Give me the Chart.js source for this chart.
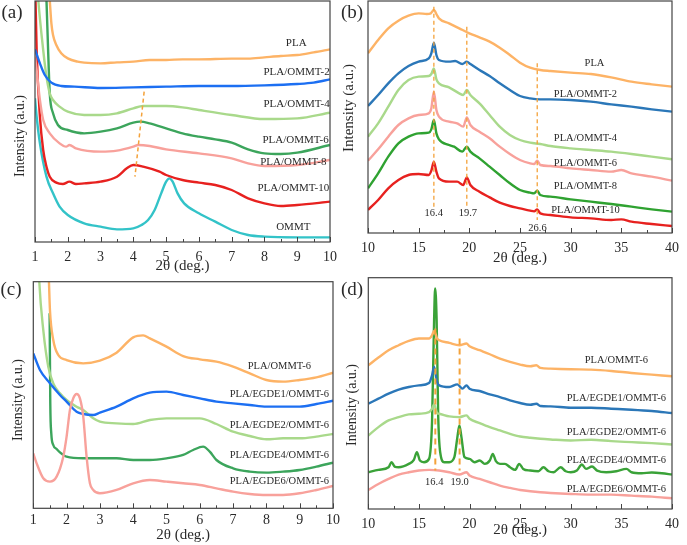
<!DOCTYPE html>
<html>
<head>
<meta charset="utf-8">
<script src="https://cdn.jsdelivr.net/npm/chart.js@4.4.1/dist/chart.umd.min.js"></script>
<style>
  body { margin: 0; background: #fff; width: 687px; height: 545px; overflow: hidden; position: relative; }
  canvas { position: absolute; }
</style>
</head>
<body>
<canvas id="chartA" width="345" height="275" style="left:0;top:0"></canvas>
<canvas id="chartB" width="347" height="275" style="left:340px;top:0"></canvas>
<canvas id="chartC" width="345" height="275" style="left:0;top:270px"></canvas>
<canvas id="chartD" width="347" height="275" style="left:340px;top:270px"></canvas>
<script>
// Intensities are in arbitrary units (0 = bottom of each panel)

// (a) PLA/OMMT, 2θ = 1-10°
const aTicks = [1, 2, 3, 4, 5, 6, 7, 8, 9, 10];
const aNames = ['PLA', 'PLA/OMMT-2', 'PLA/OMMT-4', 'PLA/OMMT-6', 'PLA/OMMT-8', 'PLA/OMMT-10', 'OMMT'];
const aPLA_x = [1.40, 1.45, 1.50, 1.55, 1.65, 1.8, 2.0, 2.3, 2.5, 3.0, 3.5, 4.0, 4.5, 5.0, 5.5, 6.0, 7.0, 7.5, 8.0, 8.5, 9.0, 9.5, 10];
const aPLA_y = [800, 726, 656, 621, 591, 566, 551, 541, 538, 536, 539, 541, 546, 546, 548, 548, 550, 550, 554, 558, 561, 569, 578];
const aO2_x = [1.0, 1.15, 1.3, 1.5, 1.8, 2.2, 3, 4, 5, 6, 7, 8, 9, 9.5, 10];
const aO2_y = [578, 536, 501, 478, 468, 466, 462, 464, 466, 468, 468, 470, 474, 478, 488];
const aO4_x = [1.05, 1.1, 1.25, 1.35, 1.45, 1.55, 1.75, 2, 2.5, 3, 3.5, 4, 4.3, 5, 5.5, 6, 7, 8, 9, 10];
const aO4_y = [800, 726, 576, 496, 446, 426, 406, 391, 381, 381, 386, 401, 408, 408, 404, 396, 381, 369, 371, 388];
const aO6_x = [1.33, 1.35, 1.40, 1.45, 1.55, 1.7, 2, 2.5, 3, 3.5, 4, 4.2, 4.5, 5, 5.5, 6, 6.5, 7, 7.5, 8, 8.5, 9, 10];
const aO6_y = [800, 726, 576, 446, 386, 351, 336, 326, 331, 341, 358, 361, 356, 341, 326, 316, 308, 298, 278, 266, 264, 268, 291];
const aO8_x = [1.0, 1.05, 1.15, 1.25, 1.45, 1.75, 1.95, 2.05, 2.25, 3, 3.5, 4, 4.15, 4.5, 5, 6, 7, 7.5, 8, 9, 10];
const aO8_y = [556, 516, 426, 366, 326, 296, 286, 291, 281, 271, 274, 286, 291, 288, 278, 266, 251, 236, 228, 231, 246];
const aO10_x = [1.0, 1.05, 1.15, 1.25, 1.35, 1.45, 1.65, 1.85, 2.05, 2.25, 2.5, 3, 3.5, 3.8, 4, 4.3, 4.8, 5, 5.5, 6, 6.5, 7, 7.5, 8, 8.5, 9, 10];
const aO10_y = [800, 576, 376, 276, 226, 196, 178, 174, 181, 174, 176, 181, 196, 221, 231, 226, 211, 201, 186, 178, 171, 156, 131, 116, 108, 111, 121];
const aOMMT_x = [1.0, 1.05, 1.15, 1.35, 1.55, 1.75, 2, 2.5, 3, 3.5, 4, 4.25, 4.45, 4.65, 4.85, 5.0, 5.1, 5.2, 5.35, 5.55, 6, 6.5, 7, 7.5, 8, 9, 10];
const aOMMT_y = [431, 376, 296, 196, 146, 106, 81, 56, 46, 38, 41, 51, 66, 96, 146, 181, 191, 181, 146, 116, 86, 61, 36, 21, 16, 14, 14];
const aShift_x = [4.33, 4.05];
const aShift_y = [451, 196];

// (b) PLA/OMMT, 2θ = 10-40°
const bTicks = [10, 15, 20, 25, 30, 35, 40];
const bPeaks = ['16.4', '19.7', '26.6'];
const bPLA_x = [10, 11, 12, 13, 14, 15, 15.8, 16.2, 16.5, 16.8, 17, 18, 19, 20, 21, 22, 23, 24, 25, 26, 27, 28, 30, 32, 34, 36, 38, 40];
const bPLA_y = [539, 579, 614, 637, 652, 659, 657, 659, 669, 654, 644, 629, 614, 599, 587, 574, 556, 534, 511, 496, 489, 486, 481, 477, 467, 454, 446, 439];
const bO2_x = [10, 11, 12, 13, 14, 15, 16, 16.25, 16.5, 16.75, 17, 18, 18.6, 19.3, 19.75, 20.1, 21, 22, 23, 24, 25, 26, 27, 28, 30, 32, 34, 36, 38, 40];
const bO2_y = [381, 414, 449, 479, 501, 514, 524, 539, 571, 534, 519, 514, 516, 507, 514, 507, 489, 471, 449, 429, 411, 404, 401, 401, 399, 394, 386, 379, 371, 364];
const bO4_x = [10, 11, 12, 13, 14, 15, 16, 16.25, 16.5, 16.75, 17, 18, 19, 19.4, 19.75, 20.1, 21, 22, 23, 24, 25, 26, 27, 28, 30, 32, 34, 36, 38, 40];
const bO4_y = [289, 329, 379, 429, 459, 469, 471, 477, 494, 461, 449, 437, 419, 414, 429, 414, 389, 354, 319, 294, 279, 271, 267, 261, 254, 249, 244, 237, 229, 221];
const bO6_x = [10, 11, 12, 13, 14, 15, 16, 16.25, 16.5, 16.75, 17, 18, 18.8, 19.4, 19.75, 20.1, 21, 22, 23, 24, 25, 26, 26.4, 26.7, 27, 28, 30, 32, 34, 35, 36, 38, 40];
const bO6_y = [217, 251, 289, 324, 344, 354, 359, 374, 424, 369, 349, 334, 329, 319, 347, 324, 304, 284, 259, 237, 219, 209, 207, 217, 204, 201, 194, 189, 184, 189, 179, 169, 157];
const bO8_x = [10, 11, 12, 13, 14, 15, 16, 16.25, 16.5, 16.75, 17, 18, 18.5, 19.3, 19.75, 20.1, 21, 22, 23, 24, 25, 26, 26.4, 26.7, 27, 28, 30, 32, 34, 36, 38, 40];
const bO8_y = [134, 179, 229, 269, 289, 299, 301, 311, 339, 299, 281, 264, 259, 244, 259, 244, 224, 199, 174, 149, 129, 121, 119, 127, 114, 109, 101, 94, 87, 79, 71, 64];
const bO10_x = [10, 11, 12, 13, 14, 15, 16, 16.25, 16.5, 16.75, 17, 18, 18.8, 19.4, 19.75, 20.1, 21, 22, 23, 24, 25, 26, 26.4, 26.7, 27, 28, 30, 32, 34, 35, 36, 38, 40];
const bO10_y = [69, 99, 134, 159, 174, 177, 174, 187, 214, 184, 164, 154, 154, 144, 167, 144, 124, 107, 91, 81, 74, 67, 65, 71, 59, 54, 47, 44, 39, 41, 34, 27, 21];

// (c) PLA/EGDE/OMMT-6, 2θ = 1-10°
const cTicks = [1, 2, 3, 4, 5, 6, 7, 8, 9, 10];
const cNames = ['PLA/OMMT-6', 'PLA/EGDE1/OMMT-6', 'PLA/EGDE2/OMMT-6', 'PLA/EGDE4/OMMT-6', 'PLA/EGDE6/OMMT-6'];
const cO6_x = [1.44, 1.47, 1.5, 1.6, 1.75, 2, 2.5, 3, 3.5, 4, 4.3, 4.5, 5, 5.5, 6, 6.5, 7, 7.5, 8, 8.5, 9, 9.5, 10];
const cO6_y = [760, 680, 595, 505, 460, 445, 435, 443, 467, 513, 519, 510, 485, 457, 447, 440, 425, 405, 385, 380, 385, 393, 407];
const cE1_x = [1, 1.2, 1.5, 1.8, 2, 2.3, 2.5, 2.8, 3, 3.5, 4, 4.5, 5, 5.5, 6, 6.5, 7, 7.5, 8, 8.5, 9, 9.5, 10];
const cE1_y = [465, 415, 375, 340, 320, 290, 283, 280, 287, 305, 330, 347, 350, 340, 330, 320, 315, 310, 305, 305, 305, 313, 323];
const cE2_x = [1.15, 1.18, 1.3, 1.45, 1.6, 1.8, 2, 2.3, 2.5, 2.8, 3, 3.5, 4, 4.5, 5, 5.5, 6, 6.5, 7, 7.5, 8, 8.5, 9, 9.5, 10];
const cE2_y = [760, 680, 535, 425, 375, 345, 325, 305, 295, 270, 260, 255, 253, 265, 270, 270, 270, 253, 230, 217, 207, 210, 210, 215, 223];
const cE4_x = [1.49, 1.51, 1.54, 1.6, 1.7, 1.8, 2, 2.5, 3, 3.5, 4, 4.5, 5, 5.5, 5.8, 6.1, 6.3, 6.5, 7, 7.5, 8, 8.5, 9, 9.5, 10];
const cE4_y = [585, 315, 225, 190, 178, 168, 155, 150, 150, 150, 145, 145, 150, 160, 175, 185, 170, 145, 120, 110, 107, 110, 115, 125, 137];
const cE6_x = [1, 1.1, 1.3, 1.5, 1.7, 1.9, 2.0, 2.1, 2.2, 2.3, 2.4, 2.5, 2.6, 2.7, 2.8, 3, 3.5, 4, 4.5, 5, 5.5, 6, 6.5, 7, 7.5, 8, 8.5, 9, 9.5, 10];
const cE6_y = [165, 135, 90, 80, 95, 155, 215, 295, 330, 343, 330, 275, 155, 75, 55, 45, 55, 75, 85, 80, 75, 70, 60, 50, 43, 40, 40, 45, 55, 67];

// (d) PLA/EGDE/OMMT-6, 2θ = 10-40°
const dTicks = [10, 15, 20, 25, 30, 35, 40];
const dPeaks = ['16.4', '19.0'];
const dO6_x = [10, 11, 12, 13, 14, 15, 16, 16.3, 16.5, 16.8, 17, 18, 19, 19.7, 20, 21, 22, 23, 24, 25, 26, 26.6, 27, 28, 30, 32, 34, 36, 38, 40];
const dO6_y = [430, 453, 475, 490, 503, 510, 510, 520, 533, 510, 505, 497, 490, 495, 487, 475, 463, 450, 440, 432, 427, 430, 422, 420, 418, 417, 413, 407, 402, 397];
const dE1_x = [10, 11, 12, 13, 14, 15, 16, 16.3, 16.5, 16.8, 17, 18, 18.8, 19.3, 19.7, 20, 21, 22, 23, 24, 25, 26, 26.6, 27, 28, 30, 32, 34, 36, 38, 40];
const dE1_y = [315, 330, 345, 357, 365, 370, 377, 400, 425, 380, 370, 365, 373, 360, 370, 360, 353, 343, 335, 325, 317, 312, 315, 308, 307, 303, 303, 300, 297, 293, 287];
const dE2_x = [10, 11, 12, 13, 14, 15, 16, 16.3, 16.5, 16.8, 17, 18, 19, 19.7, 20, 21, 22, 23, 24, 25, 26, 27, 28, 30, 32, 34, 36, 38, 40];
const dE2_y = [220, 245, 265, 275, 283, 285, 290, 300, 313, 287, 285, 277, 275, 280, 270, 257, 245, 235, 225, 217, 213, 210, 208, 205, 207, 203, 200, 197, 193];
const dE4_x = [10, 11, 12, 12.3, 12.6, 13, 14, 14.5, 14.8, 15.1, 15.5, 16, 16.3, 16.5, 16.6, 16.75, 16.9, 17.1, 17.5, 18, 18.5, 18.8, 19.0, 19.2, 19.5, 20, 20.5, 21, 21.5, 22, 22.3, 22.6, 23, 23.5, 24, 24.5, 24.9, 25.3, 26, 26.8, 27.3, 27.8, 28.3, 29, 29.5, 30, 30.6, 31.1, 31.5, 32.1, 32.6, 33.5, 34.5, 35.5, 36, 37, 38, 39, 40];
const dE4_y = [110, 117, 125, 140, 127, 125, 135, 147, 170, 145, 140, 150, 265, 565, 660, 565, 285, 170, 140, 140, 155, 215, 250, 215, 155, 150, 140, 145, 135, 145, 165, 143, 135, 135, 125, 117, 135, 120, 115, 113, 125, 113, 110, 125, 113, 110, 115, 133, 120, 127, 115, 110, 113, 120, 110, 107, 109, 107, 103];
const dE6_x = [10, 11, 12, 13, 14, 15, 16, 17, 18, 19, 19.7, 20, 21, 22, 23, 24, 25, 26, 27, 28, 30, 32, 34, 36, 38, 40];
const dE6_y = [57, 75, 90, 103, 110, 115, 117, 115, 110, 103, 110, 100, 90, 80, 70, 63, 57, 53, 50, 48, 45, 43, 43, 40, 37, 32];

const SERIF = '"Liberation Serif", "DejaVu Serif", serif';
const AXIS = '#444';
const TEXT = '#2a2a2a';
const GUIDE = '#F4A23A';

function pts(xs, ys) {
  return xs.map((x, i) => ({ x: x, y: ys[i] }));
}

function curve(label, xs, ys, color) {
  return {
    label: label, data: pts(xs, ys), borderColor: color, borderWidth: 2.4,
    pointRadius: 0, fill: false, cubicInterpolationMode: 'monotone'
  };
}

function guide(x, yTop, yBottom, width, dash) {
  return {
    label: 'guide', data: pts([x[0], x[1]], [yTop, yBottom]), borderColor: GUIDE,
    borderWidth: width, borderDash: dash, pointRadius: 0, fill: false
  };
}

// frame, inward ticks, curve labels, y title and panel letter
function makeDecor(o) {
  return {
    id: 'decor',
    afterDraw(chart) {
      const { ctx, chartArea: a, scales } = chart;
      const sx = scales.x, sy = scales.y;
      ctx.save();
      ctx.strokeStyle = AXIS;
      ctx.lineWidth = 1;
      ctx.beginPath();
      o.ticks.forEach((v, i) => {
        const px = Math.round(sx.getPixelForValue(v)) + 0.5;
        ctx.moveTo(px, a.bottom);
        ctx.lineTo(px, a.bottom - 5);
        if (i < o.ticks.length - 1) {
          const mx = Math.round(sx.getPixelForValue((v + o.ticks[i + 1]) / 2)) + 0.5;
          ctx.moveTo(mx, a.bottom);
          ctx.lineTo(mx, a.bottom - 3);
        }
      });
      ctx.stroke();
      ctx.lineWidth = 1.2;
      ctx.strokeRect(a.left, a.top, a.right - a.left, a.bottom - a.top);

      ctx.fillStyle = TEXT;
      ctx.textAlign = 'center';
      ctx.textBaseline = 'middle';
      ctx.font = o.labelSize + 'px ' + SERIF;
      o.labels.forEach(l => ctx.fillText(l[0], sx.getPixelForValue(l[1]), sy.getPixelForValue(l[2])));

      ctx.font = '19px ' + SERIF;
      ctx.fillText(o.letter, o.letterAt[0], o.letterAt[1]);

      ctx.font = o.yTitleSize + 'px ' + SERIF;
      ctx.translate(o.yTitleAt[0], o.yTitleAt[1]);
      ctx.rotate(-Math.PI / 2);
      ctx.fillText('Intensity (a.u.)', 0, 0);
      ctx.restore();
    }
  };
}

function makePanel(id, o) {
  return new Chart(document.getElementById(id), {
    type: 'line',
    data: { datasets: o.datasets },
    options: {
      responsive: false,
      animation: false,
      events: [],
      layout: { padding: o.pad },
      plugins: { legend: { display: false }, tooltip: { enabled: false } },
      scales: {
        x: {
          type: 'linear', min: o.ticks[0], max: o.ticks[o.ticks.length - 1],
          afterFit: s => { s.height = o.xH; },
          afterBuildTicks: s => { s.ticks = o.ticks.map(v => ({ value: v })); },
          grid: { display: false, drawTicks: false },
          border: { display: false },
          ticks: { padding: o.tickPad, color: TEXT, maxRotation: 0, autoSkip: false,
                   font: { family: SERIF, size: 14, lineHeight: 1 } },
          title: { display: true, text: '2θ (deg.)', color: TEXT,
                   font: { family: SERIF, size: 15, lineHeight: 1 },
                   padding: { top: 0, bottom: o.titlePad } }
        },
        y: {
          min: 0, max: o.yMax,
          afterFit: s => { s.width = o.yW; },
          ticks: { display: false },
          grid: { display: false, drawTicks: false },
          border: { display: false }
        }
      }
    },
    plugins: [makeDecor(o)]
  });
}

makePanel('chartA', {
  ticks: aTicks, yMax: 723, yW: 35, xH: 33, pad: { left: 0, right: 10.5, top: 1, bottom: 0 },
  tickPad: 8, titlePad: 1.5, letter: '(a)', letterAt: [12, 13], yTitleAt: [20, 136], yTitleSize: 14, labelSize: 11,
  labels: [[aNames[0], 8.97, 598], [aNames[1], 8.98, 511], [aNames[2], 8.98, 413], [aNames[3], 8.95, 306],
           [aNames[4], 8.88, 239], [aNames[5], 8.88, 161], [aNames[6], 8.88, 44]],
  datasets: [
    guide(aShift_x, aShift_y[0], aShift_y[1], 1.5, [4, 3]),
    curve(aNames[0], aPLA_x, aPLA_y, '#FDB366'),
    curve(aNames[1], aO2_x, aO2_y, '#1C6FF2'),
    curve(aNames[2], aO4_x, aO4_y, '#A9D98B'),
    curve(aNames[3], aO6_x, aO6_y, '#3CA55C'),
    curve(aNames[4], aO8_x, aO8_y, '#F8A19B'),
    curve(aNames[5], aO10_x, aO10_y, '#E7211F'),
    curve(aNames[6], aOMMT_x, aOMMT_y, '#33C3C8')
  ]
});

makePanel('chartB', {
  ticks: bTicks, yMax: 696, yW: 28, xH: 42, pad: { left: 0, right: 6, top: 1, bottom: 0 },
  tickPad: 8, titlePad: 9.5, letter: '(b)', letterAt: [12, 13], yTitleAt: [9, 108], yTitleSize: 15, labelSize: 10.5,
  labels: [[aNames[0], 32.35, 509], [aNames[1], 31.46, 416], [aNames[2], 31.46, 284], [aNames[3], 31.46, 209],
           [aNames[4], 31.46, 139], [aNames[5], 31.46, 69],
           [bPeaks[0], 16.49, 59], [bPeaks[1], 19.85, 59], [bPeaks[2], 26.73, 14]],
  datasets: [
    guide([16.5, 16.5], 679, 79, 1.3, [4, 3]),
    guide([19.75, 19.75], 619, 79, 1.3, [4, 3]),
    guide([26.7, 26.7], 509, 39, 1.3, [4, 3]),
    curve(aNames[0], bPLA_x, bPLA_y, '#FDB366'),
    curve(aNames[1], bO2_x, bO2_y, '#2B77B8'),
    curve(aNames[2], bO4_x, bO4_y, '#A9D98B'),
    curve(aNames[3], bO6_x, bO6_y, '#F8A19B'),
    curve(aNames[4], bO8_x, bO8_y, '#2FA231'),
    curve(aNames[5], bO10_x, bO10_y, '#E7211F')
  ]
});

makePanel('chartC', {
  ticks: cTicks, yMax: 680, yW: 33.3, xH: 36.7, pad: { left: 0, right: 5, top: 11.7, bottom: 0 },
  tickPad: 5, titlePad: 2.5, letter: '(c)', letterAt: [11, 20], yTitleAt: [18, 130], yTitleSize: 14, labelSize: 10.5,
  labels: [[cNames[0], 8.39, 427], [cNames[1], 8.39, 342], [cNames[2], 8.39, 250], [cNames[3], 8.39, 160], [cNames[4], 8.39, 82]],
  datasets: [
    curve(cNames[4], cE6_x, cE6_y, '#F8A19B'),
    curve(cNames[0], cO6_x, cO6_y, '#FDB366'),
    curve(cNames[1], cE1_x, cE1_y, '#1C6FF2'),
    curve(cNames[2], cE2_x, cE2_y, '#A9D98B'),
    curve(cNames[3], cE4_x, cE4_y, '#3CA55C')
  ]
});

makePanel('chartD', {
  ticks: dTicks, yMax: 692, yW: 28.3, xH: 36, pad: { left: 0, right: 6, top: 7.7, bottom: 0 },
  tickPad: 8, titlePad: 7.5, letter: '(d)', letterAt: [12, 20], yTitleAt: [12, 135], yTitleSize: 14, labelSize: 10.5,
  labels: [[cNames[0], 34.5, 445], [cNames[1], 34.5, 330], [cNames[2], 34.5, 230], [cNames[3], 34.5, 145], [cNames[4], 34.5, 60],
           [dPeaks[0], 16.52, 80], [dPeaks[1], 19.02, 80]],
  datasets: [
    guide([16.62, 16.62], 540, 115, 2, [6, 4]),
    guide([19.02, 19.02], 510, 115, 2, [6, 4]),
    curve(cNames[0], dO6_x, dO6_y, '#FDB366'),
    curve(cNames[1], dE1_x, dE1_y, '#2B77B8'),
    curve(cNames[2], dE2_x, dE2_y, '#A9D98B'),
    curve(cNames[3], dE4_x, dE4_y, '#3AA238'),
    curve(cNames[4], dE6_x, dE6_y, '#F8A19B')
  ]
});
</script>
</body>
</html>
